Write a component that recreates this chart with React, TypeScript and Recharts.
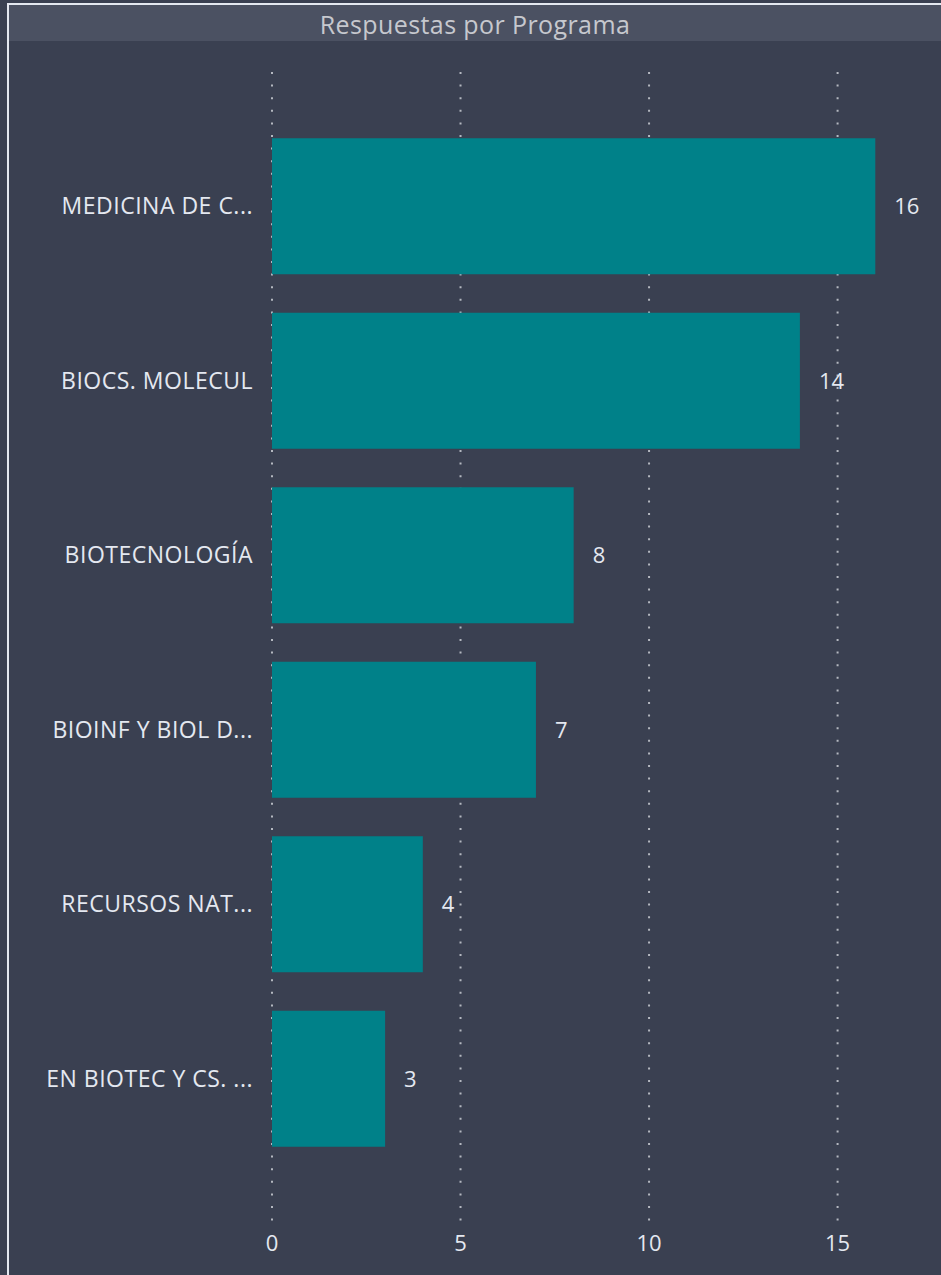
import React from "react";
import { BarChart, Bar, XAxis, YAxis, CartesianGrid, LabelList } from "recharts";

const categories = [
  "MEDICINA DE C...",
  "BIOCS. MOLECUL",
  "BIOTECNOLOGÍA",
  "BIOINF Y BIOL D...",
  "RECURSOS NAT...",
  "EN BIOTEC Y CS. ...",
];
const respuestas = [16, 14, 8, 7, 4, 3];
const xTicks = [0, 5, 10, 15];
const xMax = 17;

const data = categories.map((c, i) => ({ programa: c, respuestas: respuestas[i] }));

const FONT = "'Open Sans', 'Noto Sans', sans-serif";

const gridGen = (props: any) => {
  const scale = props?.xAxis?.scale;
  if (typeof scale === "function") return xTicks.map((t) => scale(t));
  const off = props?.offset;
  if (off && typeof off.left === "number" && typeof off.width === "number") {
    return xTicks.map((t) => off.left + (t / xMax) * off.width);
  }
  return [];
};

export default function App() {
  return (
    <div
      style={{
        position: "absolute",
        left: 0,
        top: 0,
        width: 941,
        height: 1275,
        background: "#3a4051",
        overflow: "hidden",
        fontFamily: FONT,
      }}
    >
      <div
        style={{
          position: "absolute",
          left: 7,
          top: 3,
          width: 934,
          height: 1272,
          borderLeft: "2px solid #e4e8f0",
          borderTop: "2px solid #e4e8f0",
          boxSizing: "border-box",
        }}
      />
      <div
        style={{
          position: "absolute",
          left: 9,
          top: 5,
          width: 932,
          height: 36,
          background: "#4b5162",
          color: "#c6c8ce",
          fontSize: 25,
          letterSpacing: 0.4,
          lineHeight: "38px",
          textAlign: "center",
          fontFamily: FONT,
        }}
      >
        Respuestas por Programa
      </div>
      <div style={{ position: "absolute", left: 0, top: 0 }}>
        <BarChart
          width={941}
          height={1275}
          data={data}
          layout="vertical"
          margin={{ top: 72, right: 28, bottom: 24, left: 0 }}
          barCategoryGap="11.05%"
        >
          <CartesianGrid
            horizontal={false}
            vertical={true}
            verticalCoordinatesGenerator={gridGen}
            stroke="#b4b8c0"
            strokeWidth={2}
            strokeDasharray="2 10.6"
          />
          <XAxis
            type="number"
            domain={[0, xMax]}
            ticks={xTicks}
            axisLine={false}
            tickLine={false}
            tickSize={0}
            tickMargin={14}
            height={30}
            tick={{ fill: "#e4e8f0", fontSize: 22, fontFamily: FONT }}
          />
          <YAxis
            type="category"
            dataKey="programa"
            width={272}
            axisLine={false}
            tickLine={false}
            tickSize={0}
            tickMargin={19}
            padding={{ top: 47, bottom: 55 }}
            interval={0}
            tick={{ fill: "#e4e8f0", fontSize: 23, letterSpacing: 0.5, fontFamily: FONT }}
          />
          <Bar dataKey="respuestas" fill="#008189" isAnimationActive={false}>
            <LabelList
              dataKey="respuestas"
              position="right"
              offset={19}
              fill="#e4e8f0"
              fontSize={22}
              fontFamily={FONT}
            />
          </Bar>
        </BarChart>
      </div>
    </div>
  );
}
